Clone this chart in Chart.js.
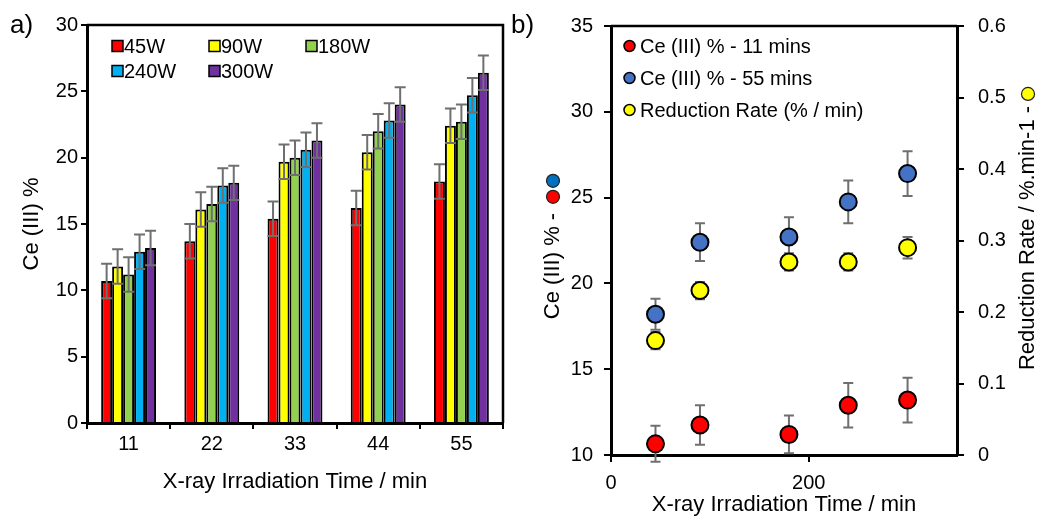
<!DOCTYPE html>
<html>
<head>
<meta charset="utf-8">
<script src="https://cdn.jsdelivr.net/npm/chart.js@4.4.0/dist/chart.umd.min.js"></script>
<style>
  body { margin: 0; background: #fff; }
  #lienzo { position: relative; width: 1037px; height: 518px; overflow: hidden; font-family: "Liberation Sans", Arial, sans-serif; }
  .panel { position: absolute; top: 0; height: 518px; }
  #panel_a { left: 0; width: 512px; }
  #panel_b { left: 505px; width: 532px; }
  .etiqueta { position: absolute; top: 11px; font-size: 26px; line-height: 1; color: #000; }
</style>
</head>
<body>
<div id="lienzo">
  <div class="panel" id="panel_a"><canvas id="grafica_a"></canvas></div>
  <div class="panel" id="panel_b"><canvas id="grafica_b"></canvas></div>
  <div class="etiqueta" style="left:10px">a)</div>
  <div class="etiqueta" style="left:511px">b)</div>
</div>
<script>
// ---- datos panel a (barras) ----
const tiempos = ["11", "22", "33", "44", "55"];
const potencias = ["45W", "90W", "180W", "240W", "300W"];
const ce_45w = [10.7, 13.7, 15.4, 16.2, 18.2];
const ce_90w = [11.8, 16.1, 19.7, 20.4, 22.4];
const ce_180w = [11.2, 16.5, 20.0, 22.0, 22.7];
const ce_240w = [12.9, 17.9, 20.6, 22.8, 24.7];
const ce_300w = [13.2, 18.1, 21.3, 24.0, 26.4];
const error_barras = [1.3, 1.3, 1.3, 1.3, 1.3];

// ---- datos panel b (dispersion) ----
const potencias_w = [45, 90, 180, 240, 300];
const ce_11min = [10.65, 11.75, 11.2, 12.9, 13.2];
const err_11min = [1.05, 1.15, 1.1, 1.3, 1.3];
const ce_55min = [18.2, 22.4, 22.7, 24.75, 26.4];
const err_55min = [0.9, 1.1, 1.15, 1.25, 1.3];
const tasa_reduccion = [0.16, 0.23, 0.27, 0.27, 0.29];
const err_tasa = [0.012, 0.012, 0.012, 0.012, 0.015];

const fuente = "'Liberation Sans', Arial, sans-serif";
Chart.defaults.font.family = fuente;
Chart.defaults.color = "#000";

const colores_potencia = ["#FF0000", "#FFFF00", "#92D050", "#00B0F0", "#7030A0"];
const series_a = [ce_45w, ce_90w, ce_180w, ce_240w, ce_300w];

function dibujar_errores(chart, opts) {
  const ctx = chart.ctx;
  ctx.save();
  ctx.strokeStyle = opts.color || "#6f6f6f";
  ctx.lineWidth = opts.ancho || 2;
  chart.data.datasets.forEach((ds, i) => {
    if (!ds.errores) return;
    const meta = chart.getDatasetMeta(i);
    const escala_y = chart.scales[meta.yAxisID];
    meta.data.forEach((el, j) => {
      const v = ds.data[j];
      const valor = typeof v === "object" ? v.y : v;
      const e = ds.errores[j];
      const arriba = escala_y.getPixelForValue(valor + e);
      const abajo = escala_y.getPixelForValue(valor - e);
      const t = opts.tapa || 5;
      ctx.beginPath();
      ctx.moveTo(el.x, arriba);
      ctx.lineTo(el.x, abajo);
      ctx.moveTo(el.x - t, arriba);
      ctx.lineTo(el.x + t, arriba);
      ctx.moveTo(el.x - t, abajo);
      ctx.lineTo(el.x + t, abajo);
      ctx.stroke();
    });
  });
  ctx.restore();
}

const plugin_barras_error = {
  id: "barras_error",
  beforeDatasetsDraw(chart, args, opts) {
    if (opts.detras) dibujar_errores(chart, opts);
  },
  afterDatasetsDraw(chart, args, opts) {
    if (!opts.detras) dibujar_errores(chart, opts);
  },
};

// marco superior / derecho del area
const plugin_marco = {
  id: "marco",
  afterDraw(chart, args, opts) {
    const { ctx, chartArea: a } = chart;
    ctx.save();
    ctx.strokeStyle = "#000";
    ctx.lineWidth = 2.5;
    ctx.beginPath();
    ctx.moveTo(a.left, a.top);
    ctx.lineTo(a.right, a.top);
    if (opts.derecha) ctx.lineTo(a.right, a.bottom);
    ctx.stroke();
    ctx.restore();
  },
};

// leyenda dentro del area, en rejilla
const plugin_leyenda = {
  id: "leyenda",
  afterDraw(chart, args, opts) {
    const { ctx, chartArea: a } = chart;
    ctx.save();
    ctx.font = "20px " + fuente;
    ctx.textBaseline = "middle";
    chart.data.datasets.forEach((ds, i) => {
      const col = i % opts.columnas;
      const fila = Math.floor(i / opts.columnas);
      const x = a.left + opts.x0 + col * opts.dx;
      const y = a.top + opts.y0 + fila * opts.dy;
      ctx.fillStyle = ds.backgroundColor;
      ctx.strokeStyle = "#000";
      ctx.lineWidth = 1.5;
      ctx.beginPath();
      if (opts.forma === "circulo") {
        ctx.arc(x + 5.5, y, 5.5, 0, Math.PI * 2);
      } else {
        ctx.rect(x, y - 5.5, 11, 11);
      }
      ctx.fill();
      ctx.stroke();
      ctx.fillStyle = "#000";
      ctx.fillText(ds.label, x + opts.sep, y + 1);
    });
    ctx.restore();
  },
};

// titulos verticales del panel b con sus puntos de color
function punto(ctx, x, y, color) {
  ctx.beginPath();
  ctx.arc(x, y, 6.5, 0, Math.PI * 2);
  ctx.fillStyle = color;
  ctx.fill();
  ctx.lineWidth = 1.2;
  ctx.strokeStyle = "#222";
  ctx.stroke();
}

const plugin_titulos_b = {
  id: "titulos_b",
  afterDraw(chart) {
    const { ctx, chartArea: a } = chart;
    ctx.save();
    ctx.font = "22px " + fuente;
    ctx.fillStyle = "#000";
    ctx.textAlign = "center";
    ctx.textBaseline = "middle";

    const izq = "Ce (III) % -";
    const xi = chart.scales.y.left + 48;
    const yi = a.top + 240;
    const wi = ctx.measureText(izq).width;
    ctx.save();
    ctx.translate(xi, yi);
    ctx.rotate(-Math.PI / 2);
    ctx.fillText(izq, 0, 0);
    ctx.restore();
    punto(ctx, xi, yi - wi / 2 - 16, "#FF0000");
    punto(ctx, xi, yi - wi / 2 - 32, "#0070C0");

    const der = "Reduction Rate / %.min-1 -";
    const xd = chart.scales.y1.right - 9;
    const yd = a.top + 212;
    const wd = ctx.measureText(der).width;
    ctx.save();
    ctx.fillStyle = "#000";
    ctx.translate(xd, yd);
    ctx.rotate(-Math.PI / 2);
    ctx.fillText(der, 0, 0);
    ctx.restore();
    punto(ctx, xd, yd - wd / 2 - 12, "#FFFF00");
    ctx.restore();
  },
};

// ---- panel a ----
new Chart(document.getElementById("grafica_a"), {
  type: "bar",
  data: {
    labels: tiempos,
    datasets: series_a.map((serie, i) => ({
      label: potencias[i],
      data: serie,
      errores: error_barras,
      backgroundColor: colores_potencia[i],
      borderColor: "#000",
      borderWidth: 2,
      categoryPercentage: 0.66,
      barPercentage: 1,
    })),
  },
  options: {
    responsive: true,
    maintainAspectRatio: false,
    animation: false,
    layout: { padding: { top: 25, right: 9, left: 0, bottom: 0 } },
    plugins: {
      legend: { display: false },
      tooltip: { enabled: false },
      barras_error: { detras: false, color: "#6f6f6f", ancho: 2, tapa: 5.5 },
      marco: { derecha: true },
      leyenda: { forma: "cuadro", columnas: 3, x0: 25, y0: 21, dx: 97, dy: 25, sep: 12 },
    },
    scales: {
      x: {
        grid: { drawOnChartArea: false, tickLength: 6, lineWidth: 2, color: "#000", offset: true },
        border: { color: "#000", width: 3 },
        ticks: { padding: 3, font: { size: 20 }, color: "#000" },
        title: { display: true, text: "X-ray Irradiation Time / min", font: { size: 22 }, padding: { top: 0, bottom: 23 } },
        afterFit: (s) => { s.height = 95; },
      },
      y: {
        min: 0,
        max: 30,
        ticks: { stepSize: 5, padding: 3, font: { size: 20 }, color: "#000" },
        grid: { drawOnChartArea: false, tickLength: 6, lineWidth: 2, color: "#000" },
        border: { color: "#000", width: 3 },
        title: { display: true, text: "Ce (III) %", font: { size: 22 }, padding: { top: 19, bottom: 0 } },
        afterFit: (s) => { s.width = 87; },
      },
    },
  },
  plugins: [plugin_barras_error, plugin_marco, plugin_leyenda],
});

// ---- panel b ----
const puntos = (ys) => potencias_w.map((x, i) => ({ x: x, y: ys[i] }));

new Chart(document.getElementById("grafica_b"), {
  type: "scatter",
  data: {
    datasets: [
      {
        label: "Ce (III) % - 11 mins",
        data: puntos(ce_11min),
        errores: err_11min,
        backgroundColor: "#FF0000",
        yAxisID: "y",
      },
      {
        label: "Ce (III) % - 55 mins",
        data: puntos(ce_55min),
        errores: err_55min,
        backgroundColor: "#4472C4",
        yAxisID: "y",
      },
      {
        label: "Reduction Rate (% / min)",
        data: puntos(tasa_reduccion),
        errores: err_tasa,
        backgroundColor: "#FFFF00",
        yAxisID: "y1",
      },
    ],
  },
  options: {
    responsive: true,
    maintainAspectRatio: false,
    animation: false,
    layout: { padding: { top: 25, right: 0, left: 0, bottom: 0 } },
    elements: {
      point: { radius: 8.5, borderWidth: 2, borderColor: "#000", hoverRadius: 8.5 },
    },
    plugins: {
      legend: { display: false },
      tooltip: { enabled: false },
      barras_error: { detras: true, color: "#6f6f6f", ancho: 2, tapa: 5 },
      marco: { derecha: false },
      leyenda: { forma: "circulo", columnas: 1, x0: 13, y0: 20, dx: 0, dy: 32, sep: 16 },
    },
    scales: {
      x: {
        type: "linear",
        min: 0,
        max: 350,
        ticks: { stepSize: 200, includeBounds: false, padding: 9, font: { size: 20 }, color: "#000" },
        grid: { drawOnChartArea: false, tickLength: 7, lineWidth: 2, color: "#000" },
        border: { color: "#000", width: 3 },
        title: { display: true, text: "X-ray Irradiation Time / min", font: { size: 22 }, padding: { top: 0, bottom: 0 } },
        afterFit: (s) => { s.height = 63; },
      },
      y: {
        position: "left",
        min: 10,
        max: 35,
        ticks: { stepSize: 5, padding: 11, font: { size: 20 }, color: "#000" },
        grid: { drawOnChartArea: false, tickLength: 7, lineWidth: 2, color: "#000" },
        border: { color: "#000", width: 3 },
        afterFit: (s) => { s.width = 106; },
      },
      y1: {
        position: "right",
        min: 0,
        max: 0.6,
        ticks: { stepSize: 0.1, padding: 14, font: { size: 20 }, color: "#000" },
        grid: { drawOnChartArea: false, tickLength: 7, lineWidth: 2, color: "#000" },
        border: { color: "#000", width: 3 },
        afterFit: (s) => { s.width = 80; },
      },
    },
  },
  plugins: [plugin_barras_error, plugin_marco, plugin_leyenda, plugin_titulos_b],
});
</script>
</body>
</html>
